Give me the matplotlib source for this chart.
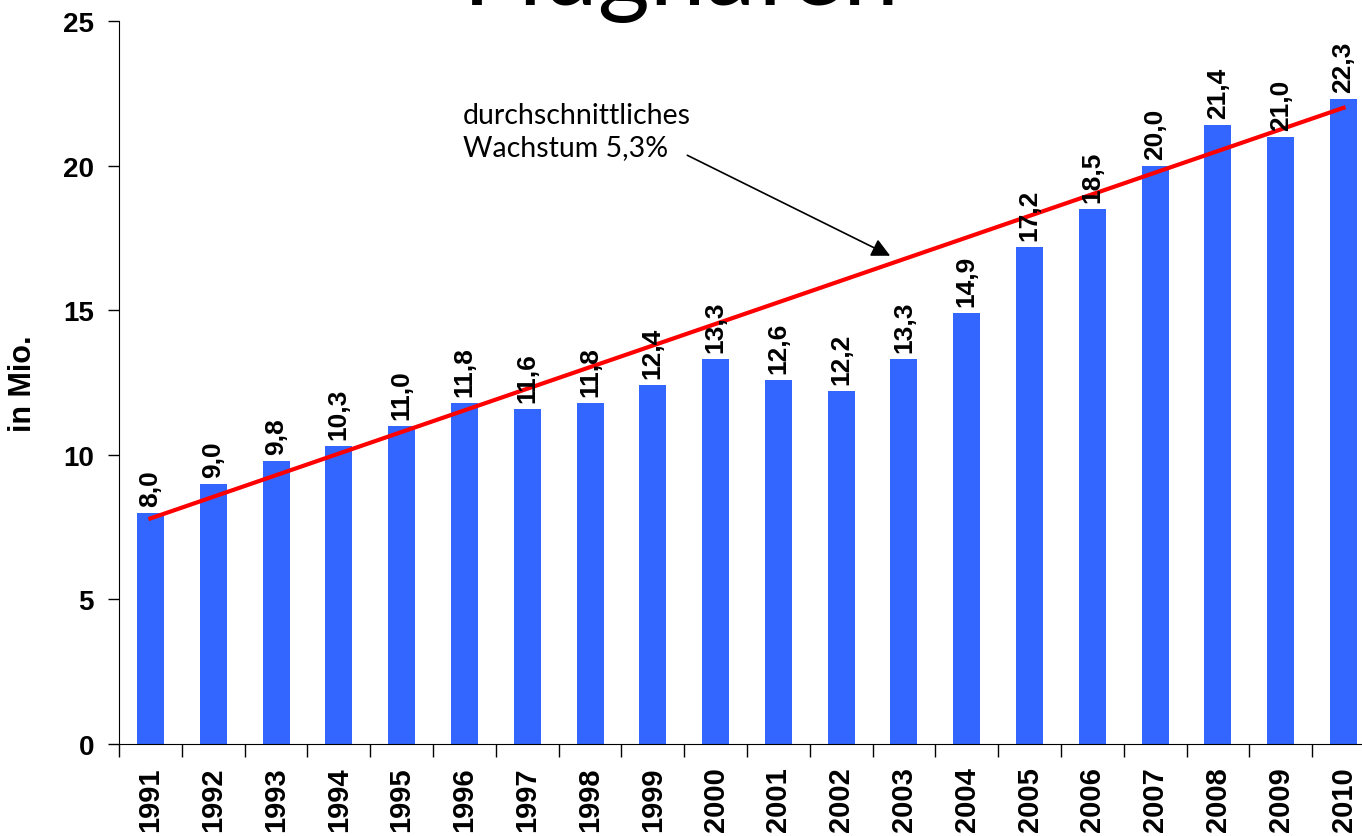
import matplotlib.pyplot as plt
import numpy as np
import matplotlib

matplotlib.rcParams['font.family'] = ['Liberation Sans', 'DejaVu Sans']

years = [str(y) for y in range(1991, 2011)]
values = [8.0, 9.0, 9.8, 10.3, 11.0, 11.8, 11.6, 11.8, 12.4, 13.3,
          12.6, 12.2, 13.3, 14.9, 17.2, 18.5, 20.0, 21.4, 21.0, 22.3]
trend_start = 7.8
trend_end = 22.0
title = 'Flughafen'
note = 'durchschnittliches\nWachstum 5,3%'

fig = plt.figure(figsize=(13.62, 8.37), dpi=100)
ax1 = fig.add_axes([0.0874, 0.1099, 0.9221, 0.8638])

x = np.arange(len(years))
ax1.bar(x, values, width=0.43, color='#3366FF', zorder=2)
for i, v in enumerate(values):
    ax1.annotate(f'{v:.1f}'.replace('.', ','), (x[i], v), xytext=(0, 5),
                 textcoords='offset points', rotation=90, ha='center', va='bottom',
                 fontsize=19, fontweight='bold', zorder=4)

ax1.plot([x[0], x[-1]], [trend_start, trend_end], color='#FF0000', lw=3, zorder=3)

ax1.annotate('', xy=(11.82, 16.84), xytext=(8.51, 20.4),
             arrowprops=dict(arrowstyle='-|>', color='black', lw=1.2, mutation_scale=28))
ax1.text(4.98, 20.2, note, fontsize=20.5, ha='left', va='bottom',
         family=['Lato', 'DejaVu Sans'], linespacing=1.3)

ax1.set_xlim(-0.5, len(years) - 0.5)
ax1.set_ylim(0, 25)
ax1.set_yticks([0, 5, 10, 15, 20, 25])
ax1.set_xticks(x)
ax1.set_xticklabels(years, rotation=90, fontsize=21, fontweight='bold')
ax1.set_xticks(np.arange(-0.5, len(years)), minor=True)
ax1.tick_params(axis='x', which='major', length=0, pad=16)
ax1.tick_params(axis='x', which='minor', length=9, direction='out', width=1)
ax1.tick_params(axis='y', length=8, direction='out', width=1, pad=10)
for lab in ax1.get_yticklabels():
    lab.set_fontsize(20)
    lab.set_fontweight('bold')
ax1.set_ylabel('in Mio.', fontsize=22, fontweight='bold', labelpad=18)

ax1.spines['top'].set_visible(False)
ax1.spines['right'].set_visible(False)

fig.text(0.5, 1 - 5 / 837, title, fontsize=72, ha='center', va='baseline',
         family=['Lato', 'DejaVu Sans'])

fig.savefig('out.png', dpi=100)
